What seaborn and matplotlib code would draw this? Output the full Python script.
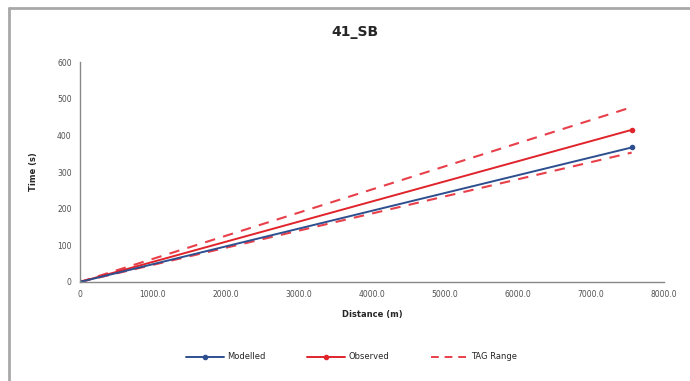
import numpy as np
import pandas as pd
import matplotlib.pyplot as plt
import seaborn as sns
from matplotlib.lines import Line2D

# chart data
distance = [0, 7560]
modelled = [0, 367]
observed = [0, 415]
tag_lower = [0, 353]
tag_upper = [0, 477]

x_ticks = [0, 1000, 2000, 3000, 4000, 5000, 6000, 7000, 8000]
x_tick_labels = ['0', '1000.0', '2000.0', '3000.0', '4000.0', '5000.0', '6000.0', '7000.0', '8000.0']
y_ticks = [0, 100, 200, 300, 400, 500, 600]

BLUE = '#2E4F8F'
RED = '#E0242B'
DASH_RED = '#E8404A'

sns.set_theme(style='white')
plt.rcParams['font.family'] = ['DejaVu Sans']

fig = plt.figure(figsize=(6.9, 3.81), dpi=100)
ax = fig.add_axes([0.116, 0.26, 0.846, 0.577])

df = pd.DataFrame({
    'distance': distance,
    'modelled': modelled,
    'observed': observed,
    'tag_lower': tag_lower,
    'tag_upper': tag_upper,
})

sns.lineplot(data=df, x='distance', y='tag_upper', ax=ax, color=DASH_RED,
             linestyle=(0, (5, 4)), linewidth=1.5)
sns.lineplot(data=df, x='distance', y='tag_lower', ax=ax, color=DASH_RED,
             linestyle=(0, (5, 4)), linewidth=1.5)
sns.lineplot(data=df, x='distance', y='observed', ax=ax, color=RED,
             marker='o', markersize=4, markeredgewidth=0, linewidth=1.4)
sns.lineplot(data=df, x='distance', y='modelled', ax=ax, color=BLUE,
             marker='o', markersize=4, markeredgewidth=0, linewidth=1.4)

ax.set_xlim(0, 8000)
ax.set_ylim(0, 600)
ax.set_xticks(x_ticks)
ax.set_xticklabels(x_tick_labels)
ax.set_yticks(y_ticks)
ax.tick_params(axis='both', labelsize=5.5, colors='#505050', length=0, pad=6)

for side in ['top', 'right']:
    ax.spines[side].set_visible(False)
for side in ['left', 'bottom']:
    ax.spines[side].set_color('#888888')
    ax.spines[side].set_linewidth(1.0)

ax.set_xlabel('Distance (m)', fontsize=6, fontweight='bold', labelpad=8)
ax.set_ylabel('Time (s)', fontsize=6, fontweight='bold', labelpad=14)
fig.text(0.515, 0.915, '41_SB', ha='center', va='center', fontsize=10, fontweight='bold')

handles = [
    Line2D([], [], color=BLUE, marker='o', markersize=3, linewidth=1.4),
    Line2D([], [], color=RED, marker='o', markersize=3, linewidth=1.4),
    Line2D([], [], color=DASH_RED, linestyle=(0, (4, 3)), linewidth=1.4),
]
fig.legend(handles, ['Modelled', 'Observed', 'TAG Range'], loc='center',
           bbox_to_anchor=(0.51, 0.063), ncol=3, frameon=False, fontsize=6,
           handlelength=4.5, columnspacing=5.0, handletextpad=0.4)

# excel-style chart frame (top and left edges visible)
fig.add_artist(Line2D([0.013, 0.013], [0, 0.98], transform=fig.transFigure, color='#A8A8A8', linewidth=2))
fig.add_artist(Line2D([0.013, 1.0], [0.98, 0.98], transform=fig.transFigure, color='#A8A8A8', linewidth=2))

fig.savefig('out.png', dpi=100, facecolor='white')
